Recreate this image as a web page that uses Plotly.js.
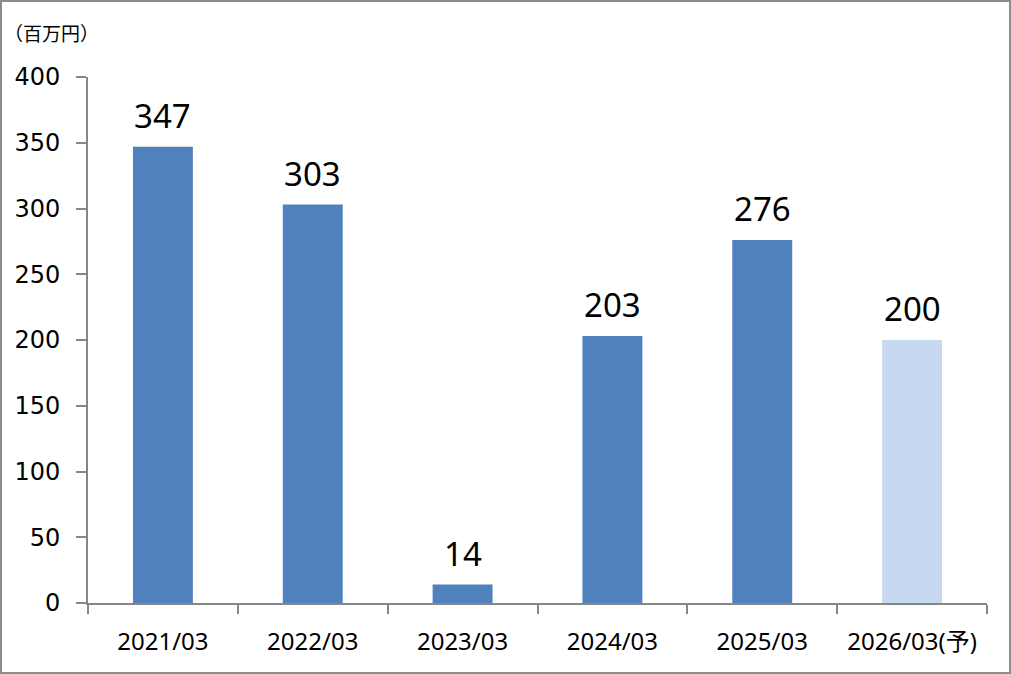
<!DOCTYPE html>
<html><head><meta charset="utf-8">
<script src="https://cdn.plot.ly/plotly-3.0.1.min.js"></script>
<style>
html,body{margin:0;padding:0;background:#fff;}
#wrap{position:relative;width:1011px;height:674px;}
#chart{position:absolute;left:0;top:0;width:1011px;height:674px;}
#frame{position:absolute;left:0;top:0;width:1011px;height:674px;box-sizing:border-box;border:2px solid #8c8c8c;pointer-events:none;}
</style></head>
<body>
<div id="wrap"><div id="chart"></div><div id="frame"></div></div>
<script>
const categories = ["2021/03","2022/03","2023/03","2024/03","2025/03","2026/03(予)"];
const values = [347, 303, 14, 203, 276, 200];
const barColors = ["#4F81BD","#4F81BD","#4F81BD","#4F81BD","#4F81BD","#C6D9F1"];
const yTicks = [0,50,100,150,200,250,300,350,400];
const unitLabel = "（百万円）";

const fontFam = "Noto Sans, Noto Sans CJK JP, sans-serif";

const trace = {
  type: "bar",
  x: categories,
  y: values,
  marker: {color: barColors, line: {width: 0}},
  hoverinfo: "none"
};

const annotations = categories.map((c, i) => ({
  x: c, y: values[i], xref: "x", yref: "y",
  text: String(values[i]), showarrow: false,
  yanchor: "bottom", yshift: 7,
  font: {family: fontFam, size: 33, color: "#000"}
}));
annotations.push({
  xref: "paper", yref: "paper", x: -86/899, y: 1 + 44/526,
  xanchor: "left", yanchor: "middle", showarrow: false,
  text: unitLabel,
  font: {family: "'Noto Sans CJK JP', sans-serif", size: 19, color: "#000"}
});

const layout = {
  width: 1011, height: 674,
  margin: {l: 88, r: 24, t: 77, b: 71, pad: 0},
  paper_bgcolor: "#fff", plot_bgcolor: "#fff",
  showlegend: false,
  bargap: 0.6,
  xaxis: {
    type: "category",
    tickson: "boundaries",
    ticks: "outside", ticklen: 9, tickcolor: "#868686", tickwidth: 2,
    showline: true, linecolor: "#868686", linewidth: 2,
    showgrid: false, zeroline: false,
    ticklabelstandoff: 16,
    tickfont: {family: fontFam, size: 24, color: "#000"},
    fixedrange: true
  },
  yaxis: {
    range: [0, 400],
    tickvals: yTicks,
    ticktext: yTicks.map(String),
    ticks: "outside", ticklen: 10, tickcolor: "#868686", tickwidth: 2,
    showline: true, linecolor: "#868686", linewidth: 2,
    showgrid: false, zeroline: false,
    ticklabelstandoff: 11,
    tickfont: {family: "DejaVu Sans, sans-serif", size: 24, color: "#000"},
    fixedrange: true
  },
  annotations: annotations
};

Plotly.newPlot("chart", [trace], layout, {displayModeBar: false, staticPlot: true});
</script>
</body></html>
